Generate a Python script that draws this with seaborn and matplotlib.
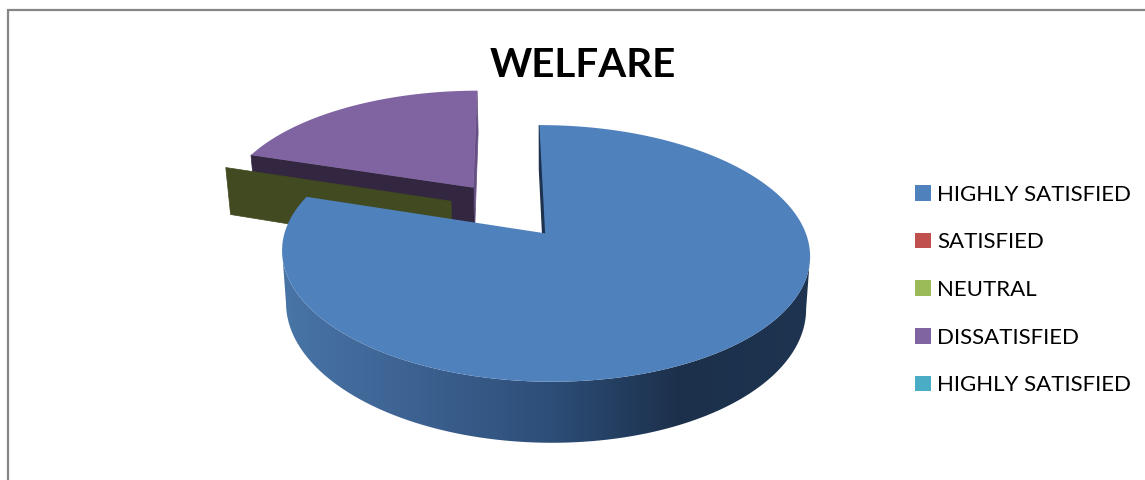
import numpy as np
import matplotlib
matplotlib.use("Agg")
import matplotlib.pyplot as plt
from matplotlib.patches import Patch, Polygon
import seaborn as sns

# Survey answers; blank answers stay NaN and get no slice at all
categories = ["HIGHLY SATISFIED", "SATISFIED", "NEUTRAL", "DISSATISFIED", "HIGHLY SATISFIED"]
shares = [80, np.nan, 0, 20, np.nan]
colors = ["#4F81BD", "#C0504D", "#9BBB59", "#8064A2", "#4BACC6"]
chart_title = "WELFARE"

# Flat cut faces of each slice: (rim index, colour), drawn in this order
cut_faces = {
    0: [(0, "#1C324E")],
    2: [(0, "#414A20")],
    3: [(-1, "#665083"), (0, "#322641")],
}

START_ANGLE = 90.2
EXPLODE = 0.24
SEGMENTS = 720

sns.set_theme(style="white")
plt.rcParams["font.family"] = ["Lato", "DejaVu Sans"]
palette = sns.color_palette(colors)


def project(px, py):
    """Perspective view of the pie plane, in figure pixels."""
    w = 1 + 0.152 * py
    return 508.2 + 253 * px / w, 209.8 - 117.9 * py / w


def lower(sx, sy):
    """Same point on the underside of the disc."""
    return 546 + (sx - 546) * 0.985, sy + 47 + 0.0657 * (sy - 168)


def slice_geometry(first, sweep):
    """Apex and rim of a slice running clockwise from angle `first`."""
    mid = np.radians(first - sweep / 2)
    ax0, ay0 = EXPLODE * np.cos(mid), EXPLODE * np.sin(mid)
    theta = np.radians(np.linspace(first, first - sweep, SEGMENTS + 1))
    return ax0, ay0, ax0 + np.cos(theta), ay0 + np.sin(theta)


def side_shade(x):
    """Colour of the curved rim across its width, left to right."""
    stops_x = [285, 400, 550, 680, 810]
    channels = ([72, 62, 45, 28, 30], [116, 100, 78, 48, 52], [166, 148, 120, 75, 80])
    return np.stack([np.interp(x, stops_x, c) / 255 for c in channels], axis=-1)


fig = plt.figure(figsize=(11.45, 4.80), dpi=100)
ax = fig.add_axes([0, 0, 1, 1])
ax.axis("off")

# Walk the slices clockwise and keep each one's geometry
geometry = {}
angle = START_ANGLE
for i, share in enumerate(shares):
    if np.isnan(share):
        continue
    sweep = share / 100 * 360
    geometry[i] = (sweep, slice_geometry(angle, sweep))
    angle -= sweep


def draw_slice(i, order):
    sweep, (ax0, ay0, rx, ry) = geometry[i]
    apex = project(ax0, ay0)
    apex_low = lower(*apex)
    tx, ty = project(rx, ry)
    bx, by = lower(tx, ty)

    for step, (rim, face_color) in enumerate(cut_faces.get(i, [])):
        ax.fill([apex[0], tx[rim], bx[rim], apex_low[0]],
                [apex[1], ty[rim], by[rim], apex_low[1]],
                color=face_color, lw=1.0 if i == 0 else 0.5, zorder=order + step * 0.1)

    # Curved side of the big slice: a smooth ramp clipped to the silhouette that
    # joins the widest points of the top and bottom rims with straight edges
    if sweep > 180:
        top = np.arange(tx.argmax(), tx.argmin() + 1)
        bottom = np.arange(bx.argmax(), bx.argmin() + 1)[::-1]
        outline = np.column_stack([np.r_[tx[top], bx[bottom]], np.r_[ty[top], by[bottom]]])
        ramp = side_shade(np.linspace(270, 820, 600))[np.newaxis, :, :]
        image = ax.imshow(ramp, extent=(270, 820, outline[:, 1].max(), outline[:, 1].min()),
                          aspect="auto", interpolation="bilinear", zorder=order + 0.3)
        image.set_clip_path(Polygon(outline, closed=True, transform=ax.transData))

    if sweep > 0:
        ax.fill(np.r_[apex[0], tx], np.r_[apex[1], ty],
                color=palette[i], lw=0, zorder=order + 0.5)


# Back to front: dissatisfied, then the neutral wall, then the large slice
for order, i in enumerate((3, 2, 0), start=1):
    draw_slice(i, order)

ax.set_xlim(0, 1145)
ax.set_ylim(480, 0)

# Chart area outline, open towards the right and bottom
ax.plot([8, 8, 1145], [480, 10, 10], color="#868686", lw=1.6,
        solid_joinstyle="miter", zorder=5)

ax.text(583, 77, chart_title, ha="center", va="baseline", fontsize=29,
        fontweight="bold", color="black", zorder=6)

handles = [Patch(facecolor=c, edgecolor="none", label=l) for c, l in zip(palette, categories)]
ax.legend(handles=handles, loc="center left", bbox_to_anchor=(915, 290),
          bbox_transform=ax.transData, frameon=False, fontsize=16,
          handlelength=0.7, handleheight=0.7, handletextpad=0.3,
          labelspacing=1.245, borderpad=0, borderaxespad=0, labelcolor="black")

fig.savefig("out.png", dpi=100, facecolor="white")
